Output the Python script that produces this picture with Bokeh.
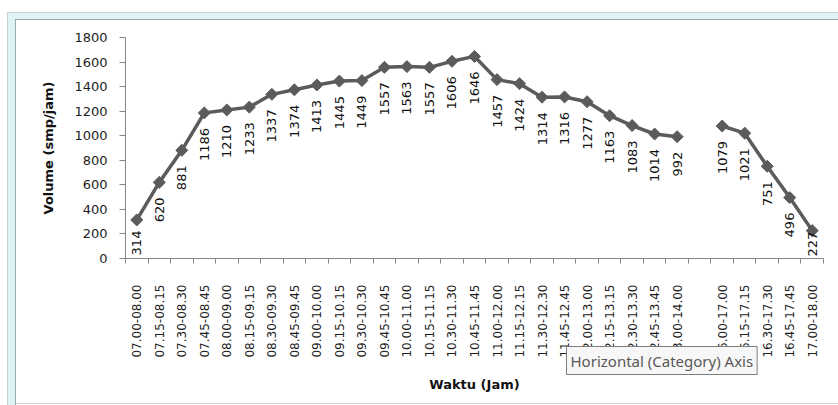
import math
from bokeh.plotting import figure
from bokeh.models import ColumnDataSource, Range1d, FixedTicker, Label
from bokeh.core.properties import value
from bokeh.embed import file_html
from bokeh.resources import INLINE

categories = [
    "07.00-08.00", "07.15-08.15", "07.30-08.30", "07.45-08.45",
    "08.00-09.00", "08.15-09.15", "08.30-09.30", "08.45-09.45",
    "09.00-10.00", "09.15-10.15", "09.30-10.30", "09.45-10.45",
    "10.00-11.00", "10.15-11.15", "10.30-11.30", "10.45-11.45",
    "11.00-12.00", "11.15-12.15", "11.30-12.30", "11.45-12.45",
    "12.00-13.00", "12.15-13.15", "12.30-13.30", "12.45-13.45",
    "13.00-14.00", "",
    "16.00-17.00", "16.15-17.15", "16.30-17.30", "16.45-17.45", "17.00-18.00",
]
volume = [
    314, 620, 881, 1186, 1210, 1233, 1337, 1374, 1413, 1445, 1449, 1557,
    1563, 1557, 1606, 1646, 1457, 1424, 1314, 1316, 1277, 1163, 1083, 1014,
    992, None, 1079, 1021, 751, 496, 227,
]
y_ticks = [0, 200, 400, 600, 800, 1000, 1200, 1400, 1600, 1800]
x_title = "Waktu (Jam)"
y_title = "Volume (smp/jam)"
tooltip_text = "Horizontal (Category) Axis"

W, H = 838, 405
MB_LEFT, MB_RIGHT, MB_TOP, MB_BOTTOM = 125, 15, 37, 147
FONT = "DejaVu Sans"
GREY = "#868686"
LINE = "#5b5b5b"

n = len(categories)
xs = list(range(n))
ys = [float("nan") if v is None else v for v in volume]

p = figure(width=W, height=H, output_backend="svg", toolbar_location=None,
           x_range=Range1d(-0.5, n - 0.5), y_range=Range1d(0, y_ticks[-1]),
           min_border_left=MB_LEFT, min_border_right=MB_RIGHT,
           min_border_top=MB_TOP, min_border_bottom=MB_BOTTOM)
p.outline_line_color = None
p.xgrid.visible = False
p.ygrid.visible = False
p.background_fill_color = "white"
p.border_fill_color = None

# Excel chart-area selection frame, painted behind the transparent border area
def bar(color, x, y, w, h):
    return f"linear-gradient({color},{color}) {x}px {y}px / {w}px {h}px no-repeat"

p.styles = {
    "background": ", ".join([
        bar("#9ea7ac", 15, 19, 1, H - 19),
        bar("#9ea7ac", 15, 19, W - 15, 1),
        bar("#d0d0d0", 15, H - 2, W - 15, 1),
        bar("#ffffff", 16, 20, W - 16, H - 20),
        bar("#c3d3d8", 7, 12, 1, H - 12),
        bar("#c3d3d8", 7, 12, W - 7, 1),
        bar("#def3f6", 7, 12, W - 7, H - 12),
    ]) + ", #ffffff",
}

# x axis
xa = p.xaxis[0]
xa.ticker = FixedTicker(ticks=xs, minor_ticks=[i - 0.5 for i in range(n + 1)])
xa.major_label_overrides = {i: c for i, c in enumerate(categories)}
xa.major_label_orientation = math.pi / 2
xa.major_tick_out = 0
xa.major_tick_in = 0
xa.minor_tick_out = 5
xa.minor_tick_in = 0
xa.minor_tick_line_color = GREY
xa.axis_line_color = GREY
xa.major_label_standoff = 21
xa.major_label_text_font = FONT
xa.major_label_text_font_size = "12px"
xa.major_label_text_color = "#1e1e1e"
xa.axis_label = x_title
xa.axis_label_text_font = FONT
xa.axis_label_text_font_style = "bold"
xa.axis_label_text_font_size = "13px"
xa.axis_label_text_color = "#111111"
xa.axis_label_standoff = 16

# y axis
ya = p.yaxis[0]
ya.ticker = FixedTicker(ticks=y_ticks, minor_ticks=[])
ya.major_tick_out = 6
ya.major_tick_in = 0
ya.major_tick_line_color = GREY
ya.axis_line_color = GREY
ya.major_label_standoff = 12
ya.major_label_text_font = FONT
ya.major_label_text_font_size = "13px"
ya.major_label_text_color = "#1e1e1e"
ya.axis_label = y_title
ya.axis_label_text_font = FONT
ya.axis_label_text_font_style = "bold"
ya.axis_label_text_font_size = "13px"
ya.axis_label_text_color = "#111111"
ya.axis_label_standoff = 15

src = ColumnDataSource(dict(x=xs, y=ys))
p.line("x", "y", source=src, line_color=LINE, line_width=3.5)
p.scatter("x", "y", source=src, marker="square", angle=math.pi / 4, size=8.5,
          fill_color=LINE, line_color=LINE)

# data labels below points, kept inside the plot area
frame_h = H - MB_TOP - MB_BOTTOM
ppu = frame_h / y_ticks[-1]
lx, ly, lt, lo = [], [], [], []
for i, v in enumerate(volume):
    if v is None:
        continue
    txt = str(v)
    length = len(txt) * 8.3
    off = min(15.0, v * ppu - length - 3)
    lx.append(i); ly.append(v); lt.append(txt); lo.append(max(off, 1.0))
lsrc = ColumnDataSource(dict(x=lx, y=ly, t=lt, o=lo))
p.text("x", "y", text="t", source=lsrc, angle=math.pi / 2, text_align="right",
       text_baseline="middle", y_offset="o", text_font=value(FONT),
       text_font_size="13px", text_color="#111111")

# tooltip seen in the screenshot (placed in a side panel so it is not clipped)
tip = Label(text=tooltip_text, text_font="Noto Sans",
            text_font_size="15px", text_color="#575757", text_align="left",
            text_baseline="middle", background_fill_color="#f7f7f7",
            border_line_color="#7d7d7d", padding=4)
try:
    tip.x_units = "canvas"
    tip.y_units = "canvas"
    tip.x, tip.y = 566, 360
except Exception:
    tip.x_units = "screen"
    tip.y_units = "screen"
    tip.x, tip.y = 566 - MB_LEFT, MB_TOP - 360
p.add_layout(tip, "above")

open("out.html", "w").write(file_html(p, INLINE))
